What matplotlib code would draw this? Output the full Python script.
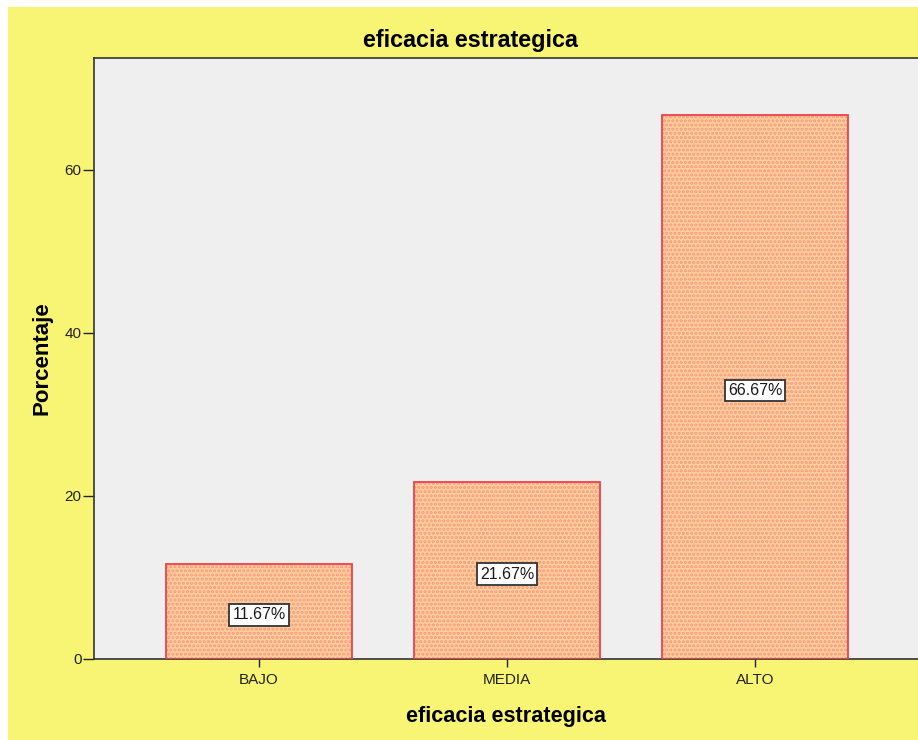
import matplotlib
matplotlib.use("Agg")
import matplotlib.pyplot as plt
from matplotlib.patches import Rectangle

categories = ["BAJO", "MEDIA", "ALTO"]
percentages = [11.67, 21.67, 66.67]
y_ticks = [0, 20, 40, 60]

plt.rcParams["font.family"] = ["Liberation Sans", "DejaVu Sans"]
plt.rcParams["hatch.linewidth"] = 1.5

fig = plt.figure(figsize=(9.18, 7.40), dpi=100, facecolor="white")
backdrop = Rectangle((8 / 918, 0), 1 - 8 / 918, 733 / 740,
                     transform=fig.transFigure, facecolor="#F9F574",
                     edgecolor="none", zorder=-10)
fig.add_artist(backdrop)

ax = fig.add_axes([94 / 918, 81 / 740, 1 - 94 / 918, (659 - 58) / 740])
ax.set_zorder(1)
ax.set_facecolor("#EFEFEF")

x = list(range(len(categories)))
# textured fill, then a red outline on top
ax.bar(x, percentages, width=0.75, color="#FFCE9C", edgecolor="#F79A7E",
       hatch="....", linewidth=0, zorder=2)
ax.bar(x, percentages, width=0.75, fill=False, edgecolor="#F0404A",
       linewidth=1.3, zorder=3)

for xi, v in zip(x, percentages):
    ax.annotate(f"{v:.2f}%", xy=(xi, v / 2), xytext=(0, -2.5),
                textcoords="offset points", ha="center", va="center",
                fontsize=11.5, color="#1A1A1A", zorder=4,
                bbox=dict(boxstyle="square,pad=0.2", facecolor="white",
                          edgecolor="#333333", linewidth=1.3))

ax.set_xlim(-0.665, 2.657)
ax.set_ylim(0, 73.7)
ax.set_xticks(x)
ax.set_xticklabels(categories)
ax.set_yticks(y_ticks)
ax.tick_params(axis="both", labelsize=11, colors="#222222", width=1)
ax.tick_params(axis="y", length=8, pad=1)
ax.tick_params(axis="x", length=6, pad=4)

ax.spines["right"].set_visible(False)
for s in ("left", "bottom", "top"):
    ax.spines[s].set_color("#333333")
    ax.spines[s].set_linewidth(1.2)

fig.text(470 / 918, 1 - 40 / 740, "eficacia estrategica", fontsize=16.8,
         fontweight="bold", ha="center", va="center")
ax.set_xlabel("eficacia estrategica", fontsize=15.6, fontweight="bold", labelpad=14)
ax.set_ylabel("Porcentaje", fontsize=16, fontweight="bold", labelpad=9)

fig.savefig("out.png", dpi=100, facecolor=fig.get_facecolor())
